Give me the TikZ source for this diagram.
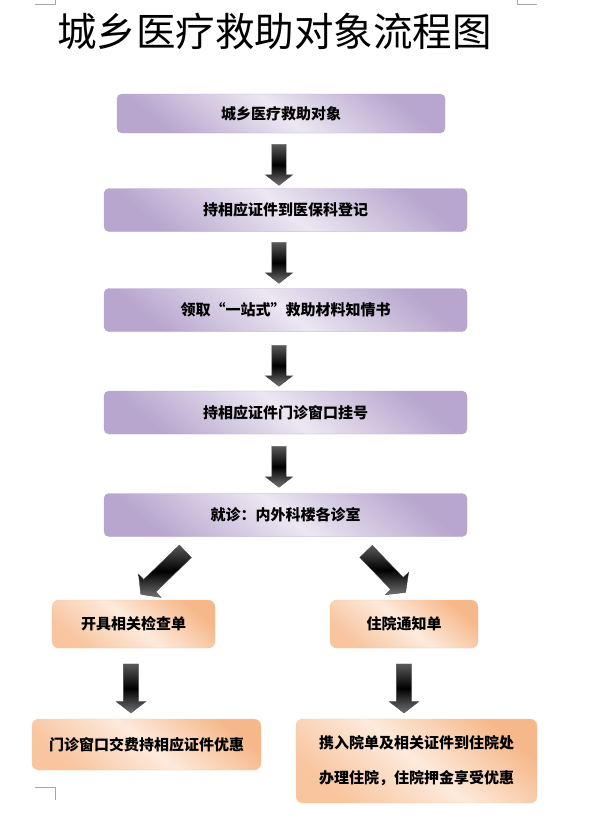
\documentclass[tikz,border=0pt]{standalone}
\usepackage{fontspec}
\setmainfont{Noto Sans CJK SC}
\usetikzlibrary{shapes.arrows}

\definecolor{lilacDark}{RGB}{184,166,206}
\definecolor{lilacLight}{RGB}{236,231,242}
\definecolor{lilacLine}{RGB}{180,162,204}
\definecolor{peachDark}{RGB}{246,184,138}
\definecolor{peachLight}{RGB}{253,234,220}
\definecolor{peachLine}{RGB}{247,198,158}

\tikzset{
 pbox/.style={draw=lilacLine,rounded corners=5pt,top color=lilacDark,bottom color=lilacDark,
   middle color=lilacLight,shading angle=-40,minimum width=#1,minimum height=43pt,inner sep=0pt,
   font=\fontsize{15}{18}\selectfont\bfseries},
 obox/.style={draw=peachLine,rounded corners=7pt,top color=peachDark,bottom color=peachDark!75!peachLight,
   middle color=peachLight,shading angle=-40,inner sep=0pt,font=\fontsize{15}{18}\selectfont\bfseries},
 darrow/.style={single arrow,draw=black!70,thin,top color=black!65,bottom color=black!55,middle color=black,
   minimum width=0pt,inner sep=7pt,single arrow head extend=6.5pt,single arrow tip angle=105,
   minimum height=#1},
 corner/.style={draw=black!35,line width=0.6pt}
}

\begin{document}
\begin{tikzpicture}[x=1pt,y=-1pt]
\useasboundingbox (0,0) rectangle (596,835);

% page corner marks
\draw[corner] (35,4) -- (55,4) -- (55,0);
\draw[corner] (517,0) -- (517,4) -- (537,4);
\draw[corner] (35,787) -- (55,787) -- (55,800);
\draw[corner] (519,792) -- (519,800);

\node (title) at (274.5,31) {\fontsize{39.5}{40}\selectfont 城乡医疗救助对象流程图};

% main column
\node[pbox=328pt,minimum height=39pt] (obj) at (281,113.5) {城乡医疗救助对象};
\node[pbox=363pt] (reg) at (285.5,210) {持相应证件到医保科登记};
\node[pbox=363pt] (form) at (285.5,310) {领取“一站式”救助材料知情书};
\node[pbox=363pt] (reghao) at (285.5,412.5) {持相应证件门诊窗口挂号};
\node[pbox=363pt] (visit) at (285.5,515) {就诊：内外科楼各诊室};

\node[darrow=41pt,rotate=-90] (a1) at (279,162) {};
\node[darrow=41pt,rotate=-90] (a2) at (279,260) {};
\node[darrow=41pt,rotate=-90] (a3) at (279,363) {};
\node[darrow=41pt,rotate=-90] (a4) at (279,464) {};

% branches
\node[darrow=62pt,inner sep=8.5pt,single arrow head extend=7.5pt,rotate=-136] (al) at (165.5,570.5) {};
\node[darrow=57pt,inner sep=8.5pt,single arrow head extend=7.5pt,rotate=-46] (ar) at (383.5,569.5) {};

\node[obox,minimum width=163pt,minimum height=48pt] (check) at (133.5,624) {开具相关检查单};
\node[obox,minimum width=148pt,minimum height=48pt] (notice) at (404,624) {住院通知单};

\node[darrow=49pt,inner sep=7.5pt,single arrow head extend=7pt,rotate=-90] (bl) at (131,685.5) {};
\node[darrow=49pt,inner sep=7.5pt,single arrow head extend=7pt,rotate=-90] (br) at (404,685.5) {};

\node[obox,minimum width=229pt,minimum height=51pt] (pay) at (146.5,744.5) {门诊窗口交费持相应证件优惠};
\node[obox,minimum width=241pt,minimum height=84pt,align=left,
  font=\fontsize{15}{35}\selectfont\bfseries] (admit) at (416.5,761)
  {携入院单及相关证件到住院处\\办理住院，住院押金享受优惠};
\end{tikzpicture}
\end{document}
